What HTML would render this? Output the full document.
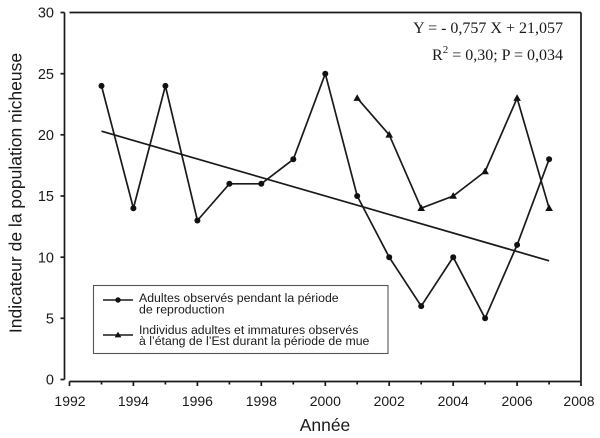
<!DOCTYPE html>
<html>
<head>
<meta charset="utf-8">
<style>
html,body{margin:0;padding:0;background:#fff;}
svg{display:block;}
.t{font-family:"Liberation Sans",Arial,sans-serif;fill:#1a1a1a;}
.s{font-family:"Liberation Serif","Times New Roman",serif;fill:#1a1a1a;}
</style>
</head>
<body>
<svg width="600" height="438" viewBox="0 0 600 438" xmlns="http://www.w3.org/2000/svg">
<rect x="0" y="0" width="600" height="438" fill="#fff"/>
<!-- frame -->
<g stroke="#1a1a1a" stroke-width="1.7" fill="none">
<line x1="64.5" y1="12.5" x2="64.5" y2="379.5"/>
<line x1="69.5" y1="12.5" x2="581" y2="12.5"/>
<line x1="581" y1="12.5" x2="581" y2="381.5"/>
<line x1="69.5" y1="381.5" x2="581" y2="381.5"/>
<!-- y ticks -->
<line x1="60.5" y1="12.5" x2="64.5" y2="12.5"/>
<line x1="60.5" y1="73.7" x2="64.5" y2="73.7"/>
<line x1="60.5" y1="134.8" x2="64.5" y2="134.8"/>
<line x1="60.5" y1="196" x2="64.5" y2="196"/>
<line x1="60.5" y1="257.2" x2="64.5" y2="257.2"/>
<line x1="60.5" y1="318.3" x2="64.5" y2="318.3"/>
<line x1="60.5" y1="379.5" x2="64.5" y2="379.5"/>
<!-- x major ticks -->
<line x1="69.5" y1="381.5" x2="69.5" y2="386"/>
<line x1="133.4" y1="381.5" x2="133.4" y2="386"/>
<line x1="197.4" y1="381.5" x2="197.4" y2="386"/>
<line x1="261.3" y1="381.5" x2="261.3" y2="386"/>
<line x1="325.3" y1="381.5" x2="325.3" y2="386"/>
<line x1="389.2" y1="381.5" x2="389.2" y2="386"/>
<line x1="453.2" y1="381.5" x2="453.2" y2="386"/>
<line x1="517.1" y1="381.5" x2="517.1" y2="386"/>
<line x1="581" y1="381.5" x2="581" y2="386"/>
<!-- x minor ticks -->
<line x1="101.5" y1="381.5" x2="101.5" y2="384.5"/>
<line x1="165.4" y1="381.5" x2="165.4" y2="384.5"/>
<line x1="229.4" y1="381.5" x2="229.4" y2="384.5"/>
<line x1="293.3" y1="381.5" x2="293.3" y2="384.5"/>
<line x1="357.2" y1="381.5" x2="357.2" y2="384.5"/>
<line x1="421.2" y1="381.5" x2="421.2" y2="384.5"/>
<line x1="485.1" y1="381.5" x2="485.1" y2="384.5"/>
<line x1="549.1" y1="381.5" x2="549.1" y2="384.5"/>
</g>
<!-- y labels -->
<g class="t" font-size="14.5" text-anchor="end">
<text x="54" y="17.7">30</text>
<text x="54" y="78.9">25</text>
<text x="54" y="140">20</text>
<text x="54" y="201.2">15</text>
<text x="54" y="262.4">10</text>
<text x="54" y="323.5">5</text>
<text x="54" y="384.7">0</text>
</g>
<!-- x labels -->
<g class="t" font-size="14" text-anchor="middle">
<text x="70" y="406">1992</text>
<text x="133.4" y="406">1994</text>
<text x="197.4" y="406">1996</text>
<text x="261.3" y="406">1998</text>
<text x="325.3" y="406">2000</text>
<text x="389.2" y="406">2002</text>
<text x="453.2" y="406">2004</text>
<text x="517.1" y="406">2006</text>
<text x="579" y="406">2008</text>
</g>
<!-- axis titles -->
<text class="t" x="325" y="431" font-size="17.5" text-anchor="middle">Année</text>
<text class="t" transform="translate(21.5,193) rotate(-90)" font-size="17.5" text-anchor="middle">Indicateur de la population nicheuse</text>
<!-- trend line -->
<line x1="101.5" y1="131.2" x2="549.1" y2="260.8" stroke="#1a1a1a" stroke-width="1.7"/>
<!-- series 1 -->
<polyline fill="none" stroke="#1a1a1a" stroke-width="1.7" points="101.5,85.9 133.4,208.2 165.4,85.9 197.4,220.5 229.4,183.8 261.3,183.8 293.3,159.3 325.3,73.7 357.2,196 389.2,257.2 421.2,306.1 453.2,257.2 485.1,318.3 517.1,244.9 549.1,159.3"/>
<g fill="#111">
<circle cx="101.5" cy="85.9" r="3"/>
<circle cx="133.4" cy="208.2" r="3"/>
<circle cx="165.4" cy="85.9" r="3"/>
<circle cx="197.4" cy="220.5" r="3"/>
<circle cx="229.4" cy="183.8" r="3"/>
<circle cx="261.3" cy="183.8" r="3"/>
<circle cx="293.3" cy="159.3" r="3"/>
<circle cx="325.3" cy="73.7" r="3"/>
<circle cx="357.2" cy="196" r="3"/>
<circle cx="389.2" cy="257.2" r="3"/>
<circle cx="421.2" cy="306.1" r="3"/>
<circle cx="453.2" cy="257.2" r="3"/>
<circle cx="485.1" cy="318.3" r="3"/>
<circle cx="517.1" cy="244.9" r="3"/>
<circle cx="549.1" cy="159.3" r="3"/>
</g>
<!-- series 2 -->
<polyline fill="none" stroke="#1a1a1a" stroke-width="1.7" points="357.2,98.1 389.2,134.8 421.2,208.2 453.2,196 485.1,171.5 517.1,98.1 549.1,208.2"/>
<g fill="#111">
<polygon points="357.2,94.2 361,100.9 353.4,100.9"/>
<polygon points="389.2,130.9 393,137.6 385.4,137.6"/>
<polygon points="421.2,204.3 425,211 417.4,211"/>
<polygon points="453.2,192.1 457,198.8 449.4,198.8"/>
<polygon points="485.1,167.6 488.9,174.3 481.3,174.3"/>
<polygon points="517.1,94.2 520.9,100.9 513.3,100.9"/>
<polygon points="549.1,204.3 552.9,211 545.3,211"/>
</g>
<!-- equation -->
<text class="s" x="563" y="33" font-size="16" text-anchor="end">Y = - 0,757 X + 21,057</text>
<text class="s" x="563" y="60" font-size="16" text-anchor="end">R<tspan font-size="11" dy="-7">2</tspan><tspan dy="7"> = 0,30; P = 0,034</tspan></text>
<!-- legend -->
<rect x="93.5" y="285.5" width="294.5" height="68" fill="#fff" stroke="#555" stroke-width="1.1"/>
<line x1="103" y1="300" x2="133" y2="300" stroke="#1a1a1a" stroke-width="1.6"/>
<circle cx="118" cy="300" r="2.7" fill="#111"/>
<line x1="103" y1="335" x2="133" y2="335" stroke="#1a1a1a" stroke-width="1.6"/>
<polygon points="118,331.6 121.4,337.4 114.6,337.4" fill="#111"/>
<g class="t" font-size="12.3">
<text x="139" y="302">Adultes observés pendant la période</text>
<text x="139" y="313.5">de reproduction</text>
<text x="139" y="334">Individus adultes et immatures observés</text>
<text x="139" y="345">à l’étang de l’Est durant la période de mue</text>
</g>
</svg>
</body>
</html>
